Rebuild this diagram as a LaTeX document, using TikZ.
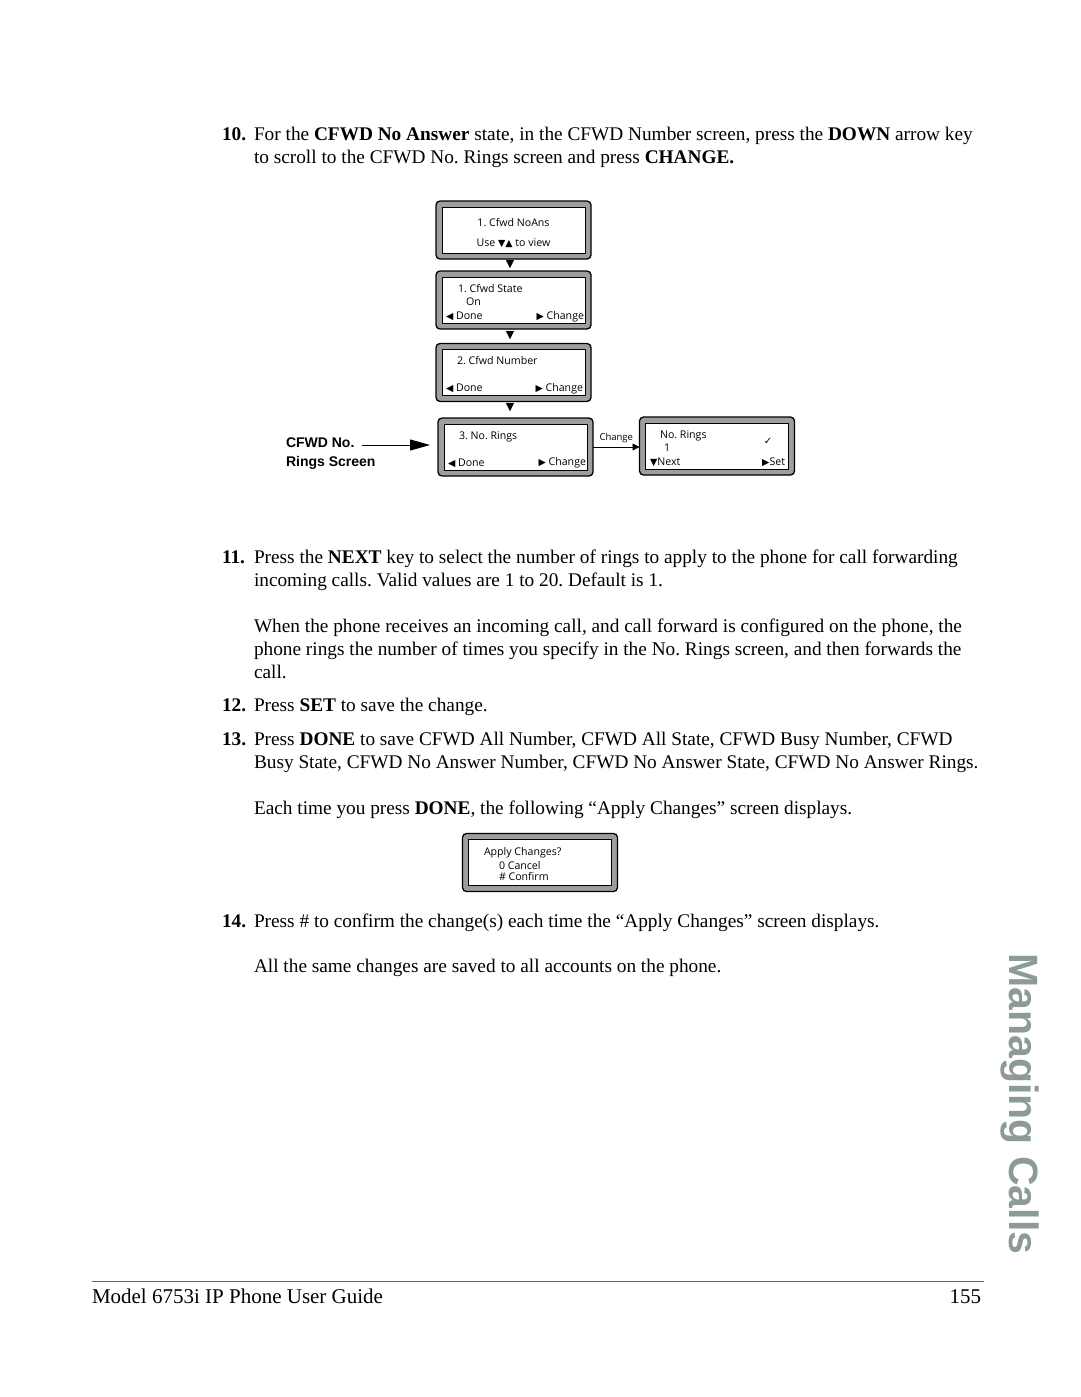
\documentclass[tikz,border=0pt]{standalone}
\usepackage{fontspec}
\setmainfont{Liberation Serif}
\newfontfamily\telafont{Open Sans}
\newfontfamily\simbfont{DejaVu Sans}
\newfontfamily\titfont{Liberation Sans}
\usetikzlibrary{arrows.meta}
\definecolor{cinzaverde}{RGB}{140,155,150}
\newcommand{\tesq}{{\simbfont\fontsize{9.5}{8}\selectfont ◀}}
\newcommand{\tdir}{{\simbfont\fontsize{9.5}{8}\selectfont ▶}}
\newcommand{\tbaixo}{{\simbfont\fontsize{9.5}{8}\selectfont ▼}}
\newcommand{\tcima}{{\simbfont\fontsize{9.5}{8}\selectfont ▲}}
\frenchspacing

\begin{document}
\begin{tikzpicture}[
		  x=1pt, y=-1pt,
		  every node/.style={inner sep=0pt, outer sep=0pt}
		]

		\tikzset{
		    corpo/.style={anchor=base west, font=\fontsize{19.3}{23}\selectfont},
		    tela/.style={draw=black, line width=1.3pt, fill=black!38, rounded corners=4pt, minimum width=155pt, minimum height=58pt},
		    visor/.style={draw=black, line width=0.6pt, fill=white, minimum width=143pt, minimum height=46pt},
		    txt/.style={anchor=base west, font=\telafont\fontsize{10.6}{12}\selectfont},
		    txtdir/.style={anchor=base east, font=\telafont\fontsize{10.6}{12}\selectfont},
		    seta/.style={font=\simbfont\fontsize{11}{12}\selectfont},
		    rotulo/.style={anchor=base west, font=\titfont\bfseries\fontsize{14}{16}\selectfont}
		}

		\useasboundingbox (0,0) rectangle (1080,1397);

		% Passo 10
		\node[corpo] (n10) at (222,140) {\textbf{10.}};
		\node[corpo] (t10a) at (254,140) {For the \textbf{CFWD No Answer} state, in the CFWD Number screen, press the \textbf{DOWN} arrow key};
		\node[corpo] (t10b) at (254,163) {to scroll to the CFWD No. Rings screen and press \textbf{CHANGE.}};

		% Telas
		\node[tela] (s1) at (513.5,230) {};
		\node[visor] (s1v) at (513.5,230) {};
		\node[txt, anchor=base] (s1a) at (513.5,226) {1. Cfwd NoAns};
		\node[txt, anchor=base] (s1b) at (513.5,246) {Use \tbaixo\tcima{} to view};
		\node[seta] (a1) at (510,265) {▼};

		\node[tela] (s2) at (513.5,300) {};
		\node[visor] (s2v) at (513.5,300) {};
		\node[txt] (s2a) at (458,292) {1. Cfwd State};
		\node[txt] (s2b) at (466,305) {On};
		\node[txt] (s2c) at (446,319) {\tesq{} Done};
		\node[txtdir] (s2d) at (584,319) {\tdir{} Change};
		\node[seta] (a2) at (510,336) {▼};

		\node[tela] (s3) at (513.5,372.5) {};
		\node[visor] (s3v) at (513.5,372.5) {};
		\node[txt] (s3a) at (457,364) {2. Cfwd Number};
		\node[txt] (s3c) at (446,391) {\tesq{} Done};
		\node[txtdir] (s3d) at (583,391) {\tdir{} Change};
		\node[seta] (a3) at (510,408) {▼};

		\node[tela] (s4) at (515.5,447) {};
		\node[visor] (s4v) at (515.5,447) {};
		\node[txt] (s4a) at (459,439) {3. No. Rings};
		\node[txt] (s4c) at (448,466) {\tesq{} Done};
		\node[txtdir] (s4d) at (586,465) {\tdir{} Change};

		\node[tela] (s5) at (717,446) {};
		\node[visor] (s5v) at (717,446) {};
		\node[txt] (s5a) at (660,438) {No. Rings};
		\node[txt] (s5b) at (664,451) {1};
		\node[font=\simbfont\fontsize{10}{12}\selectfont] (s5c) at (768,441) {✓};
		\node[txt] (s5d) at (650,465) {\tbaixo Next};
		\node[txtdir] (s5e) at (785,465) {\tdir Set};

		% Seta Change
		\draw[-{Triangle[length=7pt,width=7pt]}, line width=0.8pt] (s4.east) -- (s4.east -| s5.west)
		  node[midway, above=4pt, font=\telafont\fontsize{9.5}{11}\selectfont] (lbl) {Change};

		% Rotulo lateral
		\node[rotulo] (r1) at (286,447) {CFWD No.};
		\node[rotulo] (r2) at (286,466) {Rings Screen};
		\coordinate (r0) at (362,445);
		\draw[-{Triangle[length=20pt,width=11pt]}, line width=0.8pt] (r0) -- ([xshift=-8pt]s4.west |- r0);

		% Passos 11 a 13
		\node[corpo] (n11) at (222,563) {\textbf{11.}};
		\node[corpo] (t11a) at (254,563) {Press the \textbf{NEXT} key to select the number of rings to apply to the phone for call forwarding};
		\node[corpo] (t11b) at (254,586) {incoming calls. Valid values are 1 to 20. Default is 1.};
		\node[corpo] (t11c) at (254,632) {When the phone receives an incoming call, and call forward is configured on the phone, the};
		\node[corpo] (t11d) at (254,655) {phone rings the number of times you specify in the No. Rings screen, and then forwards the};
		\node[corpo] (t11e) at (254,678) {call.};

		\node[corpo] (n12) at (222,711) {\textbf{12.}};
		\node[corpo] (t12) at (254,711) {Press \textbf{SET} to save the change.};

		\node[corpo] (n13) at (222,745) {\textbf{13.}};
		\node[corpo] (t13a) at (254,745) {Press \textbf{DONE} to save CFWD All Number, CFWD All State, CFWD Busy Number, CFWD};
		\node[corpo] (t13b) at (254,768) {Busy State, CFWD No Answer Number, CFWD No Answer State, CFWD No Answer Rings.};
		\node[corpo] (t13c) at (254,814) {Each time you press \textbf{DONE}, the following “Apply Changes” screen displays.};

		% Tela Apply Changes
		\node[tela] (s6) at (540,862.5) {};
		\node[visor] (s6v) at (540,862.5) {};
		\node[txt] (s6a) at (484,855) {Apply Changes?};
		\node[txt] (s6b) at (499,869) {0 Cancel};
		\node[txt] (s6c) at (499,880) {\# Confirm};

		% Passo 14
		\node[corpo] (n14) at (222,927) {\textbf{14.}};
		\node[corpo] (t14a) at (254,927) {Press \# to confirm the change(s) each time the “Apply Changes” screen displays.};
		\node[corpo] (t14b) at (254,972) {All the same changes are saved to all accounts on the phone.};

		% Margem e rodape
		\node[rotate=-90, text=cinzaverde, font=\titfont\bfseries\fontsize{41}{44}\selectfont] (cap) at (1020,1104) {Managing Calls};
		\draw[black!60, line width=0.6pt] (92,1281) -- (984,1281);
		\node[anchor=base west, font=\fontsize{21}{24}\selectfont] (rod) at (92,1303) {Model 6753i IP Phone User Guide};
		\node[anchor=base east, font=\fontsize{21}{24}\selectfont] (pag) at (981,1303) {155};

		\end{tikzpicture}
\end{document}
